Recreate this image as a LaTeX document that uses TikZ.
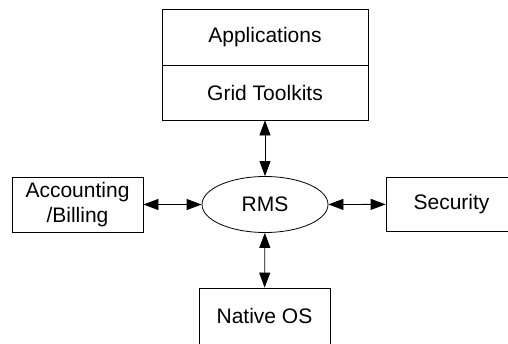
\documentclass[tikz,border=0pt]{standalone}
\usepackage{fontspec}
\setmainfont{Liberation Sans}
\usetikzlibrary{shapes.geometric,arrows.meta}
\begin{document}
\begin{tikzpicture}[x=1pt,y=-1pt,
  box/.style={draw, line width=0.8pt, inner sep=0pt, font=\fontsize{21}{25}\selectfont, align=center},
  link/.style={line width=0.8pt, {Triangle[length=15pt,width=11pt]}-{Triangle[length=15pt,width=11pt]}}]
\useasboundingbox (0,0) rectangle (508,343);
\node[box, minimum width=206pt, minimum height=56pt] (app) at (265,37) {Applications};
\node[box, minimum width=206pt, minimum height=55pt] (grid) at (265,92.5) {Grid Toolkits};
\node[box, ellipse, minimum width=126pt, minimum height=56pt] (rms) at (265,204.5) {RMS};
\node[box, minimum width=131pt, minimum height=55pt] (acc) at (77.5,204.5) {Accounting\\/Billing};
\node[box, minimum width=131pt, minimum height=54pt] (sec) at (451.5,204.3) {Security};
\node[box, minimum width=131pt, minimum height=56pt] (os) at (264.5,316) {Native OS};
\draw[link] (grid) -- (rms);
\draw[link] (acc) -- (rms);
\draw[link] (rms) -- (sec);
\draw[link] (rms) -- (os);
\end{tikzpicture}
\end{document}
